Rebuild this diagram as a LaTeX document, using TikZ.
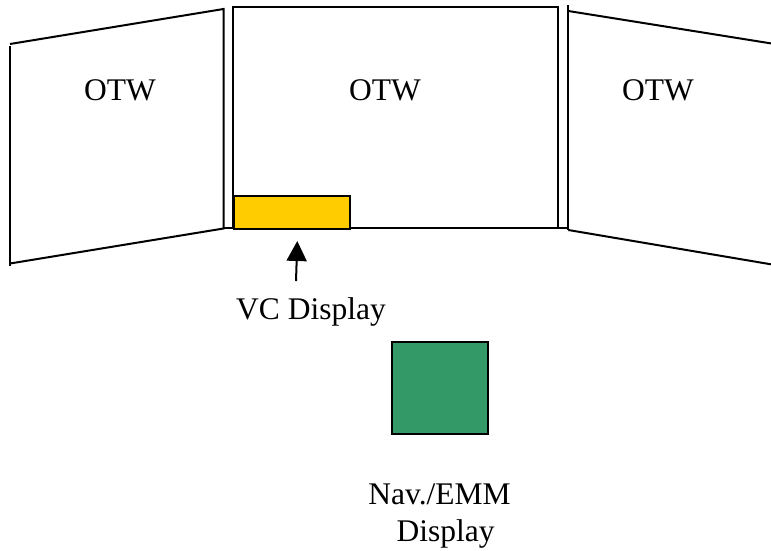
\documentclass[tikz,border=0pt]{standalone}
\usepackage{fontspec}
\setmainfont{Liberation Serif}
\usetikzlibrary{arrows.meta}
\definecolor{vcyellow}{HTML}{FFCC00}
\definecolor{navgreen}{HTML}{339966}
\tikzset{
  panel/.style={draw=black, line width=2pt, line join=miter},
  lbl/.style={font=\fontsize{31.5}{36.5}\selectfont, anchor=base, inner sep=0pt},
  disp/.style={draw=black, line width=2pt},
}
\begin{document}
\begin{tikzpicture}[x=1pt,y=-1pt]
\useasboundingbox (0,0) rectangle (771,550);
\begin{scope}
\clip (0,0) rectangle (771,550);
% left panel
\draw[panel] (10,44) -- (223.5,9) -- (223.5,228.5) -- (10,263.5);
\draw[panel] (10,46) -- (10,266);
% center panel
\draw[panel] (233.3,6.7) rectangle (557.5,228);
% right panel
\draw[panel] (568.3,5) -- (568.3,230);
\draw[panel] (568.3,11) -- (781,45);
\draw[panel] (568.3,230) -- (781,266);
% bottom connecting line
\draw[panel] (223.5,228.3) -- (568.3,228.3);
\end{scope}
% displays
\node[disp, fill=vcyellow, minimum width=116pt, minimum height=33pt, anchor=north west, inner sep=0pt] (vcbox) at (233.3,195) {};
\node[disp, fill=navgreen, minimum width=96.5pt, minimum height=91.5pt, anchor=north west, inner sep=0pt] (navbox) at (390.8,341) {};
% labels
\node[lbl] (otwl) at (120,100.5) {OTW};
\node[lbl] (otwc) at (385,100.5) {OTW};
\node[lbl] (otwr) at (658,100.5) {OTW};
\node[lbl] (vc) at (311,319) {VC Display};
\node[lbl, align=center, anchor=north] (nav) at (439.5,484) {Nav./EMM\\\hspace*{12pt}Display};
% arrow
\coordinate (atail) at (296,281);
\coordinate (ahead) at (297.3,241);
\draw[line width=2pt, -{Triangle[width=20pt,length=20pt]}] (atail) -- (ahead);
\end{tikzpicture}
\end{document}
